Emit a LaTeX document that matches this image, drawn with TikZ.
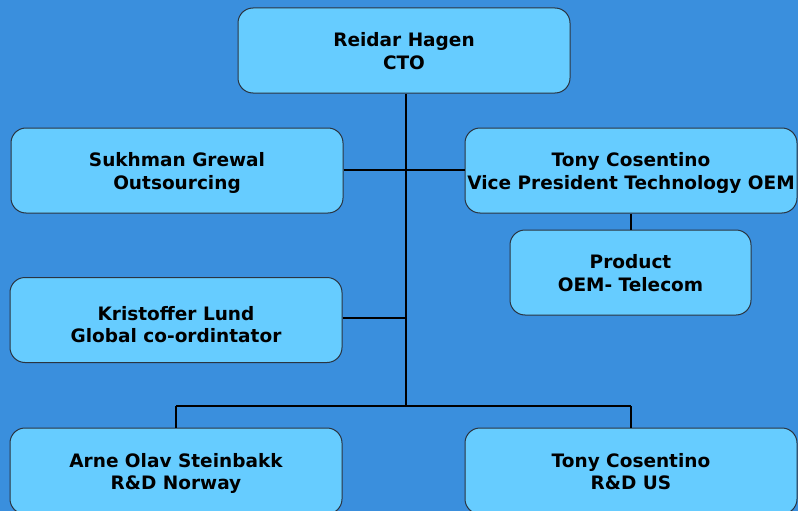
\documentclass[tikz,border=0pt]{standalone}
\usepackage{fontspec}
\setmainfont{DejaVu Sans}
\definecolor{bgblue}{HTML}{3A8FDD}
\definecolor{boxfill}{HTML}{66CCFF}
\definecolor{boxline}{HTML}{2A3440}
\newcommand\mytop[1][19.5pt]{\rule{0pt}{#1}}
\newcommand\mybot{\rule[-4.5pt]{0pt}{4.5pt}}
\begin{document}
\begin{tikzpicture}[x=1pt,y=-1pt,
  box/.style={draw=boxline, line width=1pt, fill=boxfill, rounded corners=15pt,
    minimum width=332pt, minimum height=85pt, align=center, inner sep=0pt,
    font=\bfseries\fontsize{18.5}{22.5}\selectfont},
  conn/.style={draw=black, line width=1.8pt}]
\useasboundingbox (0,0) rectangle (798,511);
\clip (0,0) rectangle (798,511);
\fill[bgblue] (0,0) rectangle (798,511);
\node[box] (cto) at (404,50.5) {\mytop Reidar Hagen\\CTO\mybot};
\node[box] (sg) at (177,170.5) {\mytop Sukhman Grewal\\Outsourcing\mybot};
\node[box] (tc) at (631,170.5) {\mytop Tony Cosentino\\Vice President Technology OEM\mybot};
\node[box, minimum width=241pt] (pr) at (630.5,272.5) {\mytop Product\\OEM- Telecom\mybot};
\node[box] (kl) at (176,320) {\mytop[27.5pt]Kristoffer Lund\\Global co-ordintator\mybot};
\node[box, minimum height=86pt] (ar) at (176,471) {\mytop Arne Olav Steinbakk\\R\&D Norway\mybot};
\node[box, minimum height=86pt] (tu) at (631,471) {\mytop Tony Cosentino\\R\&D US\mybot};
\coordinate (j1) at (406,170);
\coordinate (j2) at (406,318);
\coordinate (j3) at (406,406);
\coordinate (jl) at (176,406);
\coordinate (jr) at (631,406);
\draw[conn] (cto.south -| j1) -- (j3);
\draw[conn] (sg.east |- j1) -- (tc.west |- j1);
\draw[conn] (kl.east |- j2) -- (j2);
\draw[conn] (jl) -- (jr);
\draw[conn] (jl) -- (ar.north -| jl);
\draw[conn] (jr) -- (tu.north -| jr);
\draw[conn] (tc.south -| jr) -- (pr.north -| jr);
\end{tikzpicture}
\end{document}
